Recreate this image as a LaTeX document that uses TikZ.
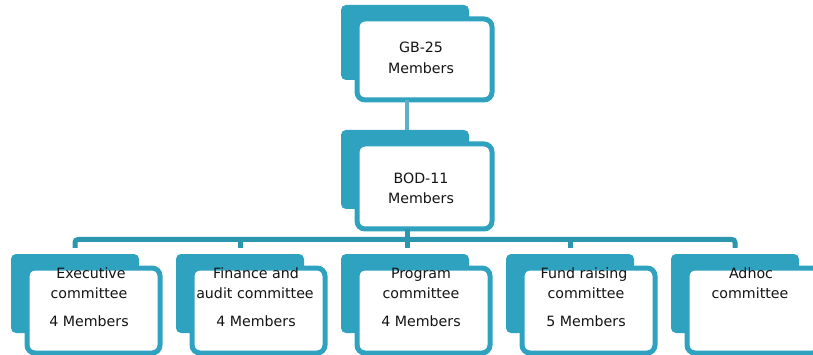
\documentclass[tikz,border=0pt]{standalone}
\usepackage{fontspec}
\setmainfont{DejaVu Sans}
\usetikzlibrary{calc}
\definecolor{boxteal}{RGB}{47,162,191}
\definecolor{barteal}{RGB}{44,150,174}
\definecolor{linkteal}{RGB}{95,176,198}
\definecolor{txtcol}{RGB}{20,20,20}
\tikzset{
  backshape/.style={fill=boxteal, rounded corners=5pt},
  frontbox/.style={draw=boxteal, line width=5pt, fill=white, rounded corners=8pt, inner sep=0pt, anchor=north west},
  txt/.style={font=\fontsize{14.2}{16}\selectfont, text=txtcol, anchor=base, inner sep=0pt},
  bar/.style={draw=barteal, line width=5pt, rounded corners=3pt},
  link/.style={draw=linkteal, line width=3.5pt}
}
% #1 name, #2 outer left, #3 outer top, #4 outer width, #5 outer height
\newcommand\OrgUnit[5]{%
  \fill[backshape] (#2-11,#3-9) rectangle (#2+117,#3+#5-20);
  \node[frontbox, minimum width=#4pt-5pt, minimum height=#5pt-5pt] (#1) at (#2+2.5,#3+2.5) {};
}
\begin{document}
\begin{tikzpicture}[x=1pt,y=-1pt]
\useasboundingbox (0,0) rectangle (813,355);
\clip (0,0) rectangle (813,355);

% top boxes
\OrgUnit{gb}{352}{14}{140}{86}
\OrgUnit{bod}{352}{139}{140}{90}

% connector GB -> BOD
\coordinate (gbout) at (407,100);
\coordinate (bodin) at (407,130);
\draw[link] (gbout) -- (bodin);

% bus from BOD to committees
\coordinate (bodout) at (407,229);
\coordinate (dexec) at (75,248);
\coordinate (dfin) at (240,248);
\coordinate (dprog) at (407,248);
\coordinate (dfund) at (570,248);
\coordinate (dadhoc) at (735,248);
\draw[bar] (dexec) -- (75,239.5) -- (735,239.5) -- (dadhoc);
\draw[bar] (bodout) -- (dprog);
\draw[bar] (240,239.5) -- (dfin);
\draw[bar] (570,239.5) -- (dfund);

% committee boxes
\OrgUnit{exec}{22}{263}{138}{90}
\OrgUnit{fin}{187}{263}{138}{90}
\OrgUnit{prog}{352}{263}{138}{90}
\OrgUnit{fund}{517}{263}{138}{90}
\OrgUnit{adhoc}{682}{263}{138}{90}

% texts
\node[txt] (gb1) at (421,53) {GB-25};
\node[txt] (gb2) at (421,74) {Members};
\node[txt] (bod1) at (421,184) {BOD-11};
\node[txt] (bod2) at (421,204) {Members};

\node[txt] (exec1) at (91,278) {Executive};
\node[txt] (exec2) at (89,298) {committee};
\node[txt] (exec3) at (89,326) {4 Members};

\node[txt] (fin1) at (256,278) {Finance and};
\node[txt] (fin2) at (255,298) {audit committee};
\node[txt] (fin3) at (256,326) {4 Members};

\node[txt] (prog1) at (421,278) {Program};
\node[txt] (prog2) at (421,298) {committee};
\node[txt] (prog3) at (421,326) {4 Members};

\node[txt] (fund1) at (584,278) {Fund raising};
\node[txt] (fund2) at (586,298) {committee};
\node[txt] (fund3) at (586,326) {5 Members};

\node[txt] (adhoc1) at (751,278) {Adhoc};
\node[txt] (adhoc2) at (750,298) {committee};
\end{tikzpicture}
\end{document}
